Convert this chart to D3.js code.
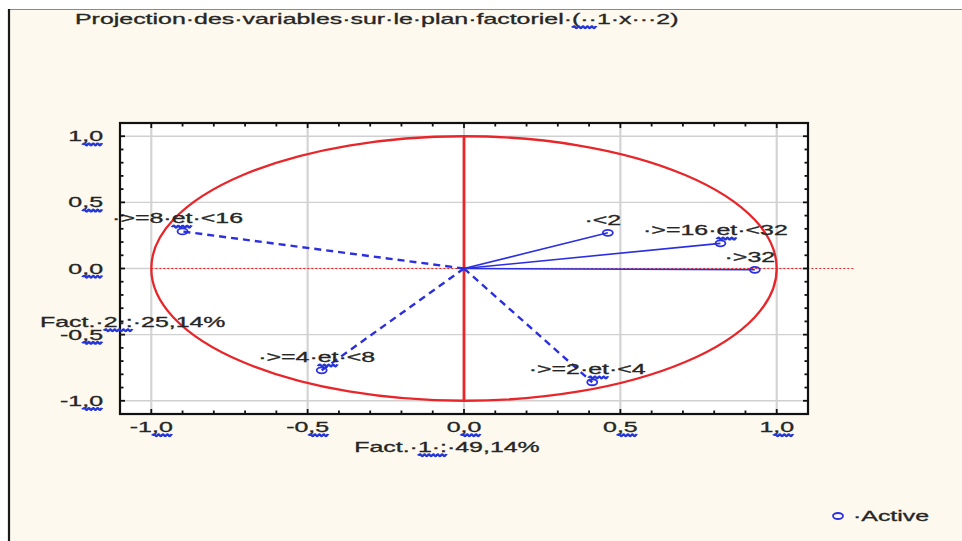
<!DOCTYPE html>
<html><head><meta charset="utf-8">
<script src="https://cdn.jsdelivr.net/npm/d3@7"></script>
<style>
body{margin:0;background:#fff;}
svg{display:block;}
text{font-family:"Liberation Sans",Arial,sans-serif;}
</style>
</head><body>
<svg id="c" width="962" height="541"></svg>
<script>
// ---- data ----
const variables = ["<2", ">=16 et <32", ">32", ">=8 et <16", ">=4 et <8", ">=2 et <4"];
const fact1 = [0.46, 0.82, 0.93, -0.90, -0.455, 0.41];
const fact2 = [0.27, 0.19, -0.01, 0.28, -0.77, -0.86];
const dashedVars = [">=8 et <16", ">=4 et <8", ">=2 et <4"];
const tickValues = [-1.0, -0.5, 0.0, 0.5, 1.0];
const tickLabels = ["-1,0", "-0,5", "0,0", "0,5", "1,0"];
const titleText = "Projection des variables sur le plan factoriel (  1 x   2)";
const xTitle = "Fact. 1 : 49,14%";
const yTitle = "Fact. 2 : 25,14%";
const legendText = "Active";

// ---- layout ----
const W = 962, H = 541;
const plot = {l: 120, r: 808, t: 123, b: 414};
const SX = 1.78, FS = 14;
const RED = "#e8262a", BLUE = "#2b2fe0", TXT = "#262626", SQ = "#2436d8";

const svg = d3.select("#c");
const x = d3.scaleLinear().domain([-1.1, 1.1]).range([plot.l, plot.r]);
const y = d3.scaleLinear().domain([-1.1, 1.1]).range([plot.b, plot.t]);

const dots = s => s.replace(/ /g, "\u00b7");

function squiggle(g, a, b, yy) {
  const step = 2.2 / SX;
  let d = `M${a},${yy}`;
  let up = true;
  for (let p = a + step; p <= b + 0.001; p += step) {
    d += `L${p},${yy + (up ? -1.6 : 0.8)}`;
    up = !up;
  }
  g.append("path").attr("d", d).attr("fill", "none").attr("stroke", SQ)
    .attr("stroke-width", 1.6).attr("stroke-linejoin", "round");
}

function stext(parent, px, py, str, anchor, sqFrom, sqTo) {
  const g = parent.append("g").attr("transform", `translate(${px},${py}) scale(${SX},1)`);
  const t = g.append("text").attr("text-anchor", anchor).attr("font-size", FS)
    .attr("fill", TXT).attr("stroke", TXT).attr("stroke-width", 0.3).text(str);
  if (sqFrom != null && sqFrom >= 0) {
    const n = t.node();
    const total = n.getComputedTextLength();
    const s0 = anchor === "end" ? -total : anchor === "middle" ? -total / 2 : 0;
    const a = s0 + (sqFrom > 0 ? n.getSubStringLength(0, sqFrom) : 0);
    const b = s0 + n.getSubStringLength(0, sqTo);
    squiggle(g, a, b, 3.6);
  }
  return g;
}

// ---- background panel ----
svg.append("rect").attr("x", 0).attr("y", 0).attr("width", W).attr("height", H).attr("fill", "#fff");
svg.append("rect").attr("x", 9).attr("y", 9).attr("width", W - 9).attr("height", H - 9).attr("fill", "#fdf9ee");
svg.append("line").attr("x1", 9).attr("x2", W).attr("y1", 9.5).attr("y2", 9.5).attr("stroke", "#8a8a8a").attr("stroke-width", 1);
svg.append("line").attr("x1", 9).attr("x2", 9).attr("y1", 9).attr("y2", H).attr("stroke", "#1a1a1a").attr("stroke-width", 2.2);

// ---- title ----
const tStr = dots(titleText);
stext(svg, 75, 24, tStr, "start", tStr.indexOf("("), tStr.indexOf("1"));

// ---- plot area ----
svg.append("rect").attr("x", plot.l).attr("y", plot.t).attr("width", plot.r - plot.l)
  .attr("height", plot.b - plot.t).attr("fill", "#fff");

// gridlines
svg.append("g").selectAll("line").data(tickValues).join("line")
  .attr("x1", d => x(d)).attr("x2", d => x(d)).attr("y1", plot.t).attr("y2", plot.b)
  .attr("stroke", "#d4d4d4").attr("stroke-width", 2.2);
svg.append("g").selectAll("line").data(tickValues).join("line")
  .attr("y1", d => y(d)).attr("y2", d => y(d)).attr("x1", plot.l).attr("x2", plot.r)
  .attr("stroke", "#d0d0d0").attr("stroke-width", 1.4);

// red unit circle
svg.append("ellipse").attr("cx", x(0)).attr("cy", y(0))
  .attr("rx", x(1) - x(0)).attr("ry", y(0) - y(1))
  .attr("fill", "none").attr("stroke", RED).attr("stroke-width", 2.3);
// red axes
svg.append("line").attr("x1", x(0)).attr("x2", x(0)).attr("y1", y(1)).attr("y2", y(-1))
  .attr("stroke", RED).attr("stroke-width", 2.8);
svg.append("line").attr("x1", x(-1)).attr("x2", x(1.25)).attr("y1", y(0)).attr("y2", y(0))
  .attr("stroke", RED).attr("stroke-width", 1.2).attr("stroke-dasharray", "2,2");

// ---- variables ----
const pts = variables.map((v, i) => ({name: v, fx: fact1[i], fy: fact2[i], dashed: dashedVars.includes(v)}));
svg.append("g").selectAll("line").data(pts).join("line")
  .attr("x1", x(0)).attr("y1", y(0)).attr("x2", d => x(d.fx)).attr("y2", d => y(d.fy))
  .attr("stroke", BLUE)
  .attr("stroke-width", d => d.dashed ? 2.4 : 1.6)
  .attr("stroke-dasharray", d => d.dashed ? "7,5" : null);
svg.append("g").selectAll("ellipse").data(pts).join("ellipse")
  .attr("cx", d => x(d.fx)).attr("cy", d => y(d.fy)).attr("rx", 5).attr("ry", 3)
  .attr("fill", "none").attr("stroke", BLUE).attr("stroke-width", 1.8);
pts.forEach(d => {
  const s = "\u00b7" + dots(d.name);
  const k = s.indexOf("et");
  stext(svg, x(d.fx) - 5, y(d.fy) - 8, s, "middle", k >= 0 ? k : null, k + 2);
});

// ---- frame & ticks ----
svg.append("rect").attr("x", plot.l).attr("y", plot.t).attr("width", plot.r - plot.l)
  .attr("height", plot.b - plot.t).attr("fill", "none").attr("stroke", "#111").attr("stroke-width", 2.2);
const minor = d3.range(-11, 12).map(i => i / 10);
const tg = svg.append("g").attr("stroke", "#111").attr("stroke-width", 1.8);
minor.forEach(v => {
  const len = Math.abs(Math.round(v * 10) % 5) === 0 ? 5 : 3.5;
  if (v > -1.1 && v < 1.1) {
    tg.append("line").attr("x1", x(v)).attr("x2", x(v)).attr("y1", plot.b).attr("y2", plot.b - len);
    tg.append("line").attr("x1", x(v)).attr("x2", x(v)).attr("y1", plot.t).attr("y2", plot.t + len);
    tg.append("line").attr("y1", y(v)).attr("y2", y(v)).attr("x1", plot.l).attr("x2", plot.l + len);
    tg.append("line").attr("y1", y(v)).attr("y2", y(v)).attr("x1", plot.r).attr("x2", plot.r - len);
  }
});

// tick labels
tickValues.forEach((v, i) => {
  const s = tickLabels[i];
  const c = s.indexOf(",");
  stext(svg, x(v), plot.b + 18, s, "middle", c, s.length);
  stext(svg, plot.l - 17, y(v) + 5, s, "end", c, s.length);
});

// axis titles
const xs = dots(xTitle);
stext(svg, 447, 452, xs, "middle", xs.indexOf("1"), xs.indexOf(":") + 1);
const ys = dots(yTitle);
stext(svg, 40, 327, ys, "start", ys.indexOf("2"), ys.indexOf(":") + 1);

// legend
svg.append("ellipse").attr("cx", 838).attr("cy", 516).attr("rx", 5).attr("ry", 3)
  .attr("fill", "none").attr("stroke", BLUE).attr("stroke-width", 1.8);
stext(svg, 853, 521, "\u00b7" + legendText, "start", null, null);
</script>
</body></html>
